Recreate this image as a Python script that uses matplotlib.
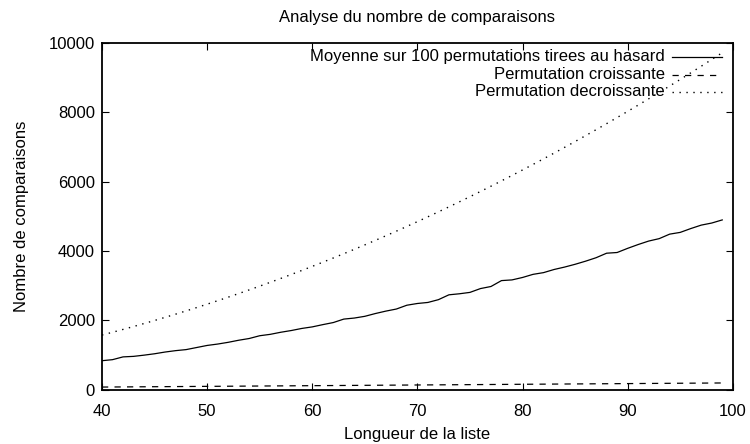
import matplotlib
matplotlib.use("Agg")
import matplotlib.pyplot as plt

longueur = list(range(40, 100))

moyenne = [840, 870, 950, 965, 1000, 1040, 1090, 1130, 1160, 1220,
           1280, 1320, 1370, 1430, 1480, 1560, 1600, 1660, 1710, 1770,
           1815, 1880, 1940, 2040, 2070, 2120, 2200, 2270, 2330, 2440,
           2490, 2520, 2600, 2740, 2770, 2810, 2920, 2980, 3150, 3170,
           3240, 3330, 3380, 3470, 3540, 3620, 3710, 3810, 3940, 3960,
           4080, 4190, 4290, 4360, 4490, 4540, 4650, 4750, 4810, 4900]

croissante = [80, 82, 84, 86, 88, 90, 92, 94, 96, 98,
              100, 102, 104, 106, 108, 110, 112, 114, 116, 118,
              120, 122, 124, 126, 128, 130, 132, 134, 136, 138,
              140, 142, 144, 146, 148, 150, 152, 154, 156, 158,
              160, 162, 164, 166, 168, 170, 172, 174, 176, 178,
              180, 182, 184, 186, 188, 190, 192, 194, 196, 198]

decroissante = [1580, 1660, 1742, 1826, 1912, 2000, 2090, 2182, 2276, 2372,
                2470, 2570, 2672, 2776, 2882, 2990, 3100, 3212, 3326, 3442,
                3560, 3680, 3802, 3926, 4052, 4180, 4310, 4442, 4576, 4712,
                4850, 4990, 5132, 5276, 5422, 5570, 5720, 5872, 6026, 6182,
                6340, 6500, 6662, 6826, 6992, 7160, 7330, 7502, 7676, 7852,
                8030, 8210, 8392, 8576, 8762, 8950, 9140, 9332, 9526, 9722]

labels = ["Moyenne sur 100 permutations tirees au hasard",
          "Permutation croissante",
          "Permutation decroissante"]

plt.rcParams['font.family'] = ['Liberation Sans', 'DejaVu Sans']
FS = 12

fig = plt.figure(figsize=(7.5, 4.44), dpi=100)
ax = fig.add_axes([0.136, 0.122, 0.841, 0.781])

styles = [dict(color='black', lw=0.9, ls='-'),
          dict(color='black', lw=0.9, ls=(0, (5, 5))),
          dict(color='black', lw=1.0, ls=(0, (1, 4)))]

for series, st in zip([moyenne, croissante, decroissante], styles):
    ax.plot(longueur, series, **st)

ax.set_xlim(40, 100)
ax.set_ylim(0, 10000)
ax.set_xticks([40, 50, 60, 70, 80, 90, 100])
ax.set_yticks([0, 2000, 4000, 6000, 8000, 10000])
ax.tick_params(direction='in', length=5, width=0.8, top=True, right=True,
               labelsize=FS)
ax.tick_params(axis='x', pad=10)
ax.tick_params(axis='y', pad=5)
for sp in ax.spines.values():
    sp.set_linewidth(1.3)

ax.set_title("Analyse du nombre de comparaisons", fontsize=FS, pad=15)
ax.set_xlabel("Longueur de la liste", fontsize=FS, labelpad=6)
ax.set_ylabel("Nombre de comparaisons", fontsize=FS, labelpad=14)

# gnuplot-style legend: right-aligned text, sample on the right
ys = [0.960, 0.909, 0.859]
for lab, st, yy in zip(labels, styles, ys):
    ax.text(0.892, yy, lab, transform=ax.transAxes, ha='right', va='center',
            fontsize=FS)
    ax.plot([0.903, 0.983], [yy, yy], transform=ax.transAxes, **st)

fig.savefig("out.png", dpi=100)
